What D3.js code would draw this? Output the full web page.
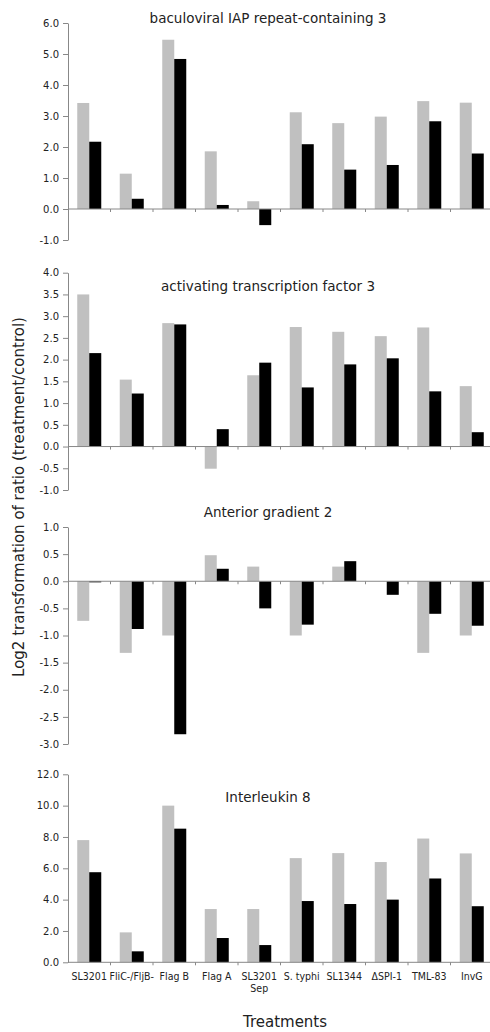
<!DOCTYPE html>
<html>
<head>
<meta charset="utf-8">
<script src="https://cdn.jsdelivr.net/npm/d3@7"></script>
<style>
  body { margin: 0; background: #fff; }
  text { font-family: "DejaVu Sans", Verdana, sans-serif; fill: #222; }
  .xlabel { font-family: "DejaVu Sans Condensed", "DejaVu Sans", sans-serif; font-stretch: condensed; }
</style>
</head>
<body>
<div id="chart"></div>
<script>
// treatments along the x axis (one line break in "SL3201 Sep")
const categories = ['SL3201', 'FliC-/FljB-', 'Flag B', 'Flag A', 'SL3201\nSep',
  'S. typhi', 'SL1344', '\u0394SPI-1', 'TML-83', 'InvG'];

const titles = ['baculoviral IAP repeat-containing 3', 'activating transcription factor 3',
  'Anterior gradient 2', 'Interleukin 8'];

// gray series and black series, one array per gene
const birc3Gray  = [3.42, 1.14, 5.46, 1.86, 0.25, 3.12, 2.77, 2.98, 3.48, 3.43];
const birc3Black = [2.17, 0.33, 4.84, 0.13, -0.52, 2.09, 1.27, 1.42, 2.83, 1.79];
const atf3Gray   = [3.50, 1.54, 2.84, -0.51, 1.64, 2.75, 2.64, 2.54, 2.74, 1.39];
const atf3Black  = [2.15, 1.22, 2.81, 0.40, 1.93, 1.36, 1.89, 2.03, 1.27, 0.33];
const agr2Gray   = [-0.73, -1.32, -1.0, 0.48, 0.27, -1.0, 0.27, 0, -1.32, -1.0];
const agr2Black  = [-0.02, -0.88, -2.82, 0.23, -0.50, -0.80, 0.37, -0.25, -0.60, -0.82];
const il8Gray    = [7.80, 1.91, 10.0, 3.40, 3.40, 6.65, 6.97, 6.40, 7.90, 6.95];
const il8Black   = [5.75, 0.70, 8.53, 1.55, 1.10, 3.91, 3.72, 4.00, 5.35, 3.58];

// y domains and tick values per panel
const yDomains = [[-1, 6], [-1, 4], [-3, 1], [0, 12]];
const yTicks = [d3.range(-1, 6.01, 1), d3.range(-1, 4.01, 0.5), d3.range(-3, 1.01, 0.5), d3.range(0, 12.01, 2)];

const grays = [birc3Gray, atf3Gray, agr2Gray, il8Gray];
const blacks = [birc3Black, atf3Black, agr2Black, il8Black];

const width = 490, height = 1032;
// vertical pixel extent of each panel's y axis (bottom, top)
const panelRanges = [[240, 23], [490, 272.7], [744, 527], [962.3, 774.3]];
const titleY = [23, 291, 517, 802];

const svg = d3.select('#chart').append('svg')
  .attr('width', width)
  .attr('height', height);

const x = d3.scaleBand()
  .domain(categories)
  .range([68, 493])
  .paddingInner(0)
  .paddingOuter(0);

const xSub = d3.scaleBand()
  .domain(['gray', 'black'])
  .range([0, x.bandwidth()])
  .paddingInner(0)
  .paddingOuter(0.77);

const colors = { gray: '#c0c0c0', black: '#000' };

titles.forEach(function(title, i) {
  const g = svg.append('g');
  const y = d3.scaleLinear().domain(yDomains[i]).range(panelRanges[i]);

  const rows = categories.map((c, j) => ({ c: c, gray: grays[i][j], black: blacks[i][j] }));

  // bars
  ['gray', 'black'].forEach(function(s) {
    g.selectAll('.bar-' + s)
      .data(rows)
      .enter().append('rect')
      .attr('x', d => x(d.c) + xSub(s))
      .attr('width', xSub.bandwidth())
      .attr('y', d => y(Math.max(0, d[s])))
      .attr('height', d => Math.abs(y(d[s]) - y(0)))
      .attr('fill', colors[s]);
  });

  // x axis line at zero with ticks at band edges
  const y0 = y(0);
  g.append('line')
    .attr('x1', 68).attr('x2', width)
    .attr('y1', y0).attr('y2', y0)
    .attr('stroke', '#888').attr('stroke-width', 1);
  g.selectAll('.xtick')
    .data(categories.slice(1))
    .enter().append('line')
    .attr('x1', d => x(d)).attr('x2', d => x(d))
    .attr('y1', y0).attr('y2', y0 + 3)
    .attr('stroke', '#888');

  // y axis
  const yAxis = g.append('g')
    .attr('transform', 'translate(68,0)')
    .call(d3.axisLeft(y).tickValues(yTicks[i]).tickFormat(d3.format('.1f')).tickSize(5).tickSizeOuter(0).tickPadding(4));
  yAxis.select('.domain').attr('stroke', '#888');
  yAxis.selectAll('.tick line').attr('stroke', '#888');
  yAxis.selectAll('.tick text')
    .style('font-family', '"DejaVu Sans", Verdana, sans-serif')
    .style('font-size', '10px')
    .attr('fill', '#444')
    .text(d => d3.format('.1f')(d).replace('\u2212', '-'));

  // panel title
  g.append('text')
    .attr('x', 268)
    .attr('y', titleY[i])
    .attr('text-anchor', 'middle')
    .style('font-size', '13.5px')
    .text(title);

  // category labels only under the last panel
  if (i === titles.length - 1) {
    const labels = g.selectAll('.xlabel')
      .data(categories)
      .enter().append('text')
      .attr('class', 'xlabel')
      .attr('text-anchor', 'middle')
      .attr('y', y0 + 18)
      .style('font-size', '10.5px')
      .attr('fill', '#222');
    labels.each(function(d) {
      const parts = d.split('\n');
      const t = d3.select(this);
      parts.forEach((p, k) => {
        t.append('tspan')
          .attr('x', x(d) + x.bandwidth() / 2)
          .attr('dy', k === 0 ? 0 : 12)
          .text(p);
      });
    });
  }
});

// axis titles
svg.append('text')
  .attr('x', 285)
  .attr('y', 1027)
  .attr('text-anchor', 'middle')
  .style('font-size', '15px')
  .attr('fill', '#222')
  .text('Treatments');

svg.append('text')
  .attr('transform', 'translate(24,497) rotate(-90)')
  .attr('text-anchor', 'middle')
  .style('font-size', '15px')
  .attr('fill', '#222')
  .text('Log2 transformation of ratio (treatment/control)');
</script>
</body>
</html>
